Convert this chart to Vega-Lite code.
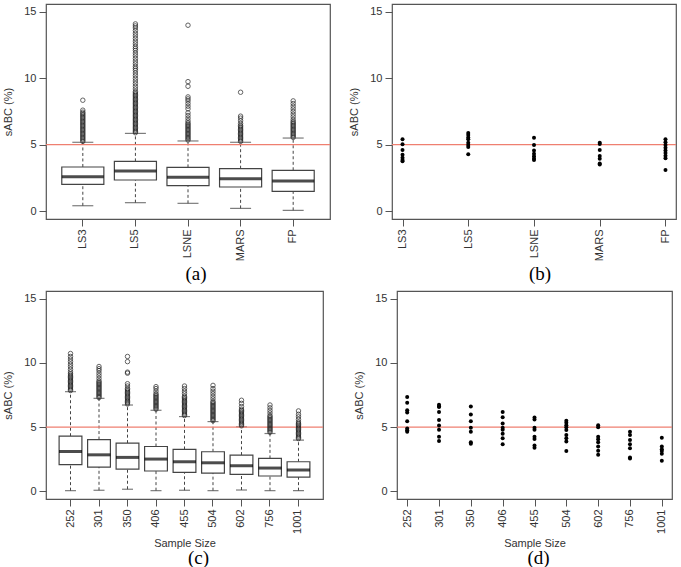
{
  "$schema": "https://vega.github.io/schema/vega-lite/v6.json",
  "padding": {"left": 2, "top": 3, "right": 0, "bottom": 0},
  "autosize": {"type": "pad"},
  "background": "white",
  "datasets": {
    "ref": [{"y": 5}],
    "boxA": [
      {"g": "LS3", "lo": 0.40, "q1": 2.01, "med": 2.59, "q3": 3.32, "hi": 5.18},
      {"g": "LS5", "lo": 0.63, "q1": 2.34, "med": 3.02, "q3": 3.74, "hi": 5.85},
      {"g": "LSNE", "lo": 0.58, "q1": 1.91, "med": 2.54, "q3": 3.29, "hi": 5.28},
      {"g": "MARS", "lo": 0.20, "q1": 1.81, "med": 2.44, "q3": 3.19, "hi": 5.18},
      {"g": "FP", "lo": 0.05, "q1": 1.48, "med": 2.26, "q3": 3.07, "hi": 5.50}
    ],
    "outA": [
      {"g": "LS3", "v": [5.25, 5.35, 5.45, 5.55, 5.65, 5.75, 5.85, 5.95, 6.05, 6.15, 6.25, 6.35, 6.45, 6.55, 6.65, 6.75, 6.85, 6.95, 7.05, 7.15, 7.25, 7.35, 7.45, 7.6, 8.35]},
      {"g": "LS5", "v": [5.9, 6.0, 6.1, 6.2, 6.3, 6.4, 6.5, 6.6, 6.7, 6.8, 6.9, 7.0, 7.1, 7.2, 7.3, 7.4, 7.5, 7.6, 7.7, 7.8, 7.9, 8.0, 8.1, 8.2, 8.3, 8.4, 8.5, 8.6, 8.7, 8.8, 8.9, 9.0, 9.2, 9.4, 9.6, 9.8, 10.0, 10.2, 10.4, 10.6, 10.75, 10.9, 11.1, 11.3, 11.5, 11.7, 11.9, 12.1, 12.25, 12.4, 12.6, 12.8, 13.0, 13.2, 13.4, 13.6, 13.8, 13.95, 14.1]},
      {"g": "LSNE", "v": [5.35, 5.45, 5.55, 5.65, 5.75, 5.85, 5.95, 6.05, 6.15, 6.25, 6.35, 6.45, 6.55, 6.65, 6.8, 7.0, 7.2, 7.4, 7.7, 7.9, 8.1, 8.3, 8.45, 8.6, 9.4, 9.75, 14.0]},
      {"g": "MARS", "v": [5.25, 5.35, 5.45, 5.55, 5.65, 5.75, 5.85, 5.95, 6.05, 6.15, 6.25, 6.35, 6.45, 6.6, 6.8, 7.0, 7.15, 8.95]},
      {"g": "FP", "v": [5.55, 5.65, 5.75, 5.85, 5.95, 6.05, 6.15, 6.25, 6.35, 6.45, 6.55, 6.65, 6.75, 6.9, 7.1, 7.3, 7.5, 7.7, 7.9, 8.1, 8.3]}
    ],
    "dotsB": [
      {"g": "LS3", "v": [5.40, 5.03, 4.60, 4.24, 4.02, 3.85, 3.75]},
      {"g": "LS5", "v": [5.88, 5.73, 5.55, 5.40, 5.15, 4.97, 4.82, 4.27]},
      {"g": "LSNE", "v": [5.52, 4.97, 4.57, 4.32, 4.12, 3.95, 3.85]},
      {"g": "MARS", "v": [5.15, 5.05, 4.60, 4.14, 3.94, 3.59, 3.50]},
      {"g": "FP", "v": [5.40, 5.18, 4.97, 4.77, 4.57, 4.37, 4.17, 3.97, 3.09]}
    ],
    "boxC": [
      {"g": "252", "lo": 0.05, "q1": 2.07, "med": 3.10, "q3": 4.29, "hi": 7.76},
      {"g": "301", "lo": 0.08, "q1": 1.89, "med": 2.84, "q3": 4.03, "hi": 7.24},
      {"g": "350", "lo": 0.16, "q1": 1.73, "med": 2.64, "q3": 3.75, "hi": 6.72},
      {"g": "406", "lo": 0.05, "q1": 1.58, "med": 2.51, "q3": 3.49, "hi": 6.31},
      {"g": "455", "lo": 0.08, "q1": 1.47, "med": 2.30, "q3": 3.26, "hi": 5.82},
      {"g": "504", "lo": 0.05, "q1": 1.42, "med": 2.22, "q3": 3.08, "hi": 5.43},
      {"g": "602", "lo": 0.10, "q1": 1.32, "med": 1.99, "q3": 2.82, "hi": 5.02},
      {"g": "756", "lo": 0.05, "q1": 1.19, "med": 1.81, "q3": 2.56, "hi": 4.50},
      {"g": "1001", "lo": 0.05, "q1": 1.11, "med": 1.66, "q3": 2.30, "hi": 3.98}
    ],
    "outC": [
      {"g": "252", "v": [7.85, 7.95, 8.05, 8.15, 8.25, 8.35, 8.45, 8.55, 8.65, 8.75, 8.85, 8.95, 9.05, 9.15, 9.3, 9.5, 9.7, 9.9, 10.1, 10.3, 10.5, 10.73]},
      {"g": "301", "v": [7.3, 7.4, 7.5, 7.6, 7.7, 7.8, 7.9, 8.0, 8.1, 8.2, 8.3, 8.4, 8.5, 8.6, 8.8, 9.0, 9.2, 9.4, 9.55, 9.72]},
      {"g": "350", "v": [6.8, 6.9, 7.0, 7.1, 7.2, 7.3, 7.4, 7.5, 7.6, 7.7, 7.8, 7.9, 8.0, 8.2, 8.38, 9.2, 9.28, 10.1, 10.5]},
      {"g": "406", "v": [6.4, 6.5, 6.6, 6.7, 6.8, 6.9, 7.0, 7.1, 7.2, 7.3, 7.4, 7.5, 7.6, 7.8, 8.0, 8.15]},
      {"g": "455", "v": [5.9, 6.0, 6.1, 6.2, 6.3, 6.4, 6.5, 6.6, 6.7, 6.8, 6.9, 7.0, 7.1, 7.2, 7.3, 7.4, 7.6, 7.8, 8.0, 8.2]},
      {"g": "504", "v": [5.5, 5.6, 5.7, 5.8, 5.9, 6.0, 6.1, 6.2, 6.3, 6.4, 6.5, 6.6, 6.7, 6.8, 6.9, 7.0, 7.2, 7.4, 7.6, 7.8, 8.0, 8.25]},
      {"g": "602", "v": [5.1, 5.2, 5.3, 5.4, 5.5, 5.6, 5.7, 5.8, 5.9, 6.0, 6.1, 6.2, 6.3, 6.4, 6.6, 6.85, 7.09]},
      {"g": "756", "v": [4.6, 4.7, 4.8, 4.9, 5.0, 5.1, 5.2, 5.3, 5.4, 5.5, 5.6, 5.7, 5.8, 5.9, 6.1, 6.3, 6.5, 6.72]},
      {"g": "1001", "v": [4.1, 4.2, 4.3, 4.4, 4.5, 4.6, 4.7, 4.8, 4.9, 5.0, 5.1, 5.2, 5.3, 5.4, 5.6, 5.8, 6.0, 6.26]}
    ],
    "dotsD": [
      {"g": "252", "v": [7.34, 6.90, 6.31, 6.13, 5.46, 4.90, 4.75, 4.64]},
      {"g": "301", "v": [6.75, 6.62, 6.57, 6.18, 5.56, 5.13, 4.79, 4.25, 3.92]},
      {"g": "350", "v": [6.60, 5.98, 5.46, 4.95, 4.64, 3.82, 3.71]},
      {"g": "406", "v": [6.18, 5.77, 5.29, 4.95, 4.79, 4.48, 4.13, 3.66]},
      {"g": "455", "v": [5.75, 5.59, 4.95, 4.79, 4.25, 4.07, 3.56, 3.40]},
      {"g": "504", "v": [5.49, 5.33, 5.15, 4.98, 4.77, 4.38, 4.13, 3.87, 3.13]},
      {"g": "602", "v": [5.15, 4.98, 4.25, 4.05, 3.82, 3.48, 3.15, 2.84]},
      {"g": "756", "v": [4.64, 4.38, 3.99, 3.66, 3.36, 2.63, 2.55]},
      {"g": "1001", "v": [4.17, 3.48, 3.28, 3.13, 2.92, 2.38]}
    ]
  },
  "vconcat": [
    {
      "hconcat": [
        {
          "width": 284, "height": 215,
          "title": {"text": "(a)", "orient": "bottom", "dx": 8},
          "encoding": {
            "x": {"field": "g", "type": "nominal", "title": null, "scale": {"domain": ["LS3", "LS5", "LSNE", "MARS", "FP"], "paddingInner": 0, "paddingOuter": 0.2}, "axis": {"labelAngle": -90}}
          },
          "layer": [
            {"data": {"name": "boxA"}, "mark": {"type": "rule", "strokeDash": [3, 2.5], "color": "#444", "strokeWidth": 1},
             "encoding": {"y": {"field": "lo", "type": "quantitative", "title": "sABC (%)", "scale": {"domain": [-0.6, 15.6], "nice": false, "zero": false}, "axis": {"values": [0, 5, 10, 15]}}, "y2": {"field": "q1"}}},
            {"data": {"name": "boxA"}, "mark": {"type": "rule", "strokeDash": [3, 2.5], "color": "#444", "strokeWidth": 1},
             "encoding": {"y": {"field": "q3", "type": "quantitative", "title": "sABC (%)"}, "y2": {"field": "hi"}}},
            {"data": {"name": "boxA"}, "mark": {"type": "tick", "size": 21, "thickness": 1.2, "color": "#444"},
             "encoding": {"y": {"field": "lo", "type": "quantitative", "title": "sABC (%)"}}},
            {"data": {"name": "boxA"}, "mark": {"type": "tick", "size": 21, "thickness": 1.2, "color": "#444"},
             "encoding": {"y": {"field": "hi", "type": "quantitative", "title": "sABC (%)"}}},
            {"data": {"name": "boxA"}, "mark": {"type": "bar", "fill": "white", "stroke": "#444", "strokeWidth": 1.2, "width": {"band": 0.8}},
             "encoding": {"y": {"field": "q1", "type": "quantitative", "title": "sABC (%)"}, "y2": {"field": "q3"}}},
            {"data": {"name": "boxA"}, "mark": {"type": "tick", "size": 42, "thickness": 3, "color": "#000"},
             "encoding": {"y": {"field": "med", "type": "quantitative", "title": "sABC (%)"}}},
            {"data": {"name": "ref"}, "mark": {"type": "rule", "color": "#ef7f70", "strokeWidth": 1.3},
             "encoding": {"x": null, "y": {"field": "y", "type": "quantitative", "title": "sABC (%)"}}},
            {"data": {"name": "outA"}, "transform": [{"flatten": ["v"]}], "mark": {"type": "point", "shape": "circle", "filled": false, "size": 20, "stroke": "#222", "strokeWidth": 1},
             "encoding": {"y": {"field": "v", "type": "quantitative", "title": "sABC (%)"}}}
          ]
        },
        {
          "width": 284, "height": 215,
          "title": {"text": "(b)", "orient": "bottom", "dx": 6},
          "layer": [
            {"data": {"name": "ref"}, "mark": {"type": "rule", "color": "#ef7f70", "strokeWidth": 1.3},
             "encoding": {"y": {"field": "y", "type": "quantitative", "title": "sABC (%)", "scale": {"domain": [-0.6, 15.6], "nice": false, "zero": false}, "axis": {"values": [0, 5, 10, 15]}}}},
            {"data": {"name": "dotsB"}, "transform": [{"flatten": ["v"]}], "mark": {"type": "point", "shape": "circle", "filled": true, "size": 16, "color": "#000", "opacity": 1},
             "encoding": {
               "x": {"field": "g", "type": "nominal", "title": null, "scale": {"type": "point", "domain": ["LS3", "LS5", "LSNE", "MARS", "FP"], "padding": 0.16}, "axis": {"labelAngle": -90}},
               "y": {"field": "v", "type": "quantitative", "title": "sABC (%)"}}}
          ]
        }
      ],
      "spacing": 62, "bounds": "flush"
    },
    {
      "hconcat": [
        {
          "width": 277, "height": 208,
          "title": {"text": "(c)", "orient": "bottom", "dx": 14, "offset": 1},
          "encoding": {
            "x": {"field": "g", "type": "nominal", "title": "Sample Size", "scale": {"domain": ["252", "301", "350", "406", "455", "504", "602", "756", "1001"], "paddingInner": 0, "paddingOuter": 0.36}, "axis": {"labelAngle": -90, "titlePadding": 4}}
          },
          "layer": [
            {"data": {"name": "boxC"}, "mark": {"type": "rule", "strokeDash": [3, 2.5], "color": "#444", "strokeWidth": 1},
             "encoding": {"y": {"field": "lo", "type": "quantitative", "title": "sABC (%)", "scale": {"domain": [-0.6, 15.6], "nice": false, "zero": false}, "axis": {"values": [0, 5, 10, 15]}}, "y2": {"field": "q1"}}},
            {"data": {"name": "boxC"}, "mark": {"type": "rule", "strokeDash": [3, 2.5], "color": "#444", "strokeWidth": 1},
             "encoding": {"y": {"field": "q3", "type": "quantitative", "title": "sABC (%)"}, "y2": {"field": "hi"}}},
            {"data": {"name": "boxC"}, "mark": {"type": "tick", "size": 11, "thickness": 1.2, "color": "#444"},
             "encoding": {"y": {"field": "lo", "type": "quantitative", "title": "sABC (%)"}}},
            {"data": {"name": "boxC"}, "mark": {"type": "tick", "size": 11, "thickness": 1.2, "color": "#444"},
             "encoding": {"y": {"field": "hi", "type": "quantitative", "title": "sABC (%)"}}},
            {"data": {"name": "boxC"}, "mark": {"type": "bar", "fill": "white", "stroke": "#444", "strokeWidth": 1.2, "width": {"band": 0.8}},
             "encoding": {"y": {"field": "q1", "type": "quantitative", "title": "sABC (%)"}, "y2": {"field": "q3"}}},
            {"data": {"name": "boxC"}, "mark": {"type": "tick", "size": 23, "thickness": 3, "color": "#000"},
             "encoding": {"y": {"field": "med", "type": "quantitative", "title": "sABC (%)"}}},
            {"data": {"name": "ref"}, "mark": {"type": "rule", "color": "#ef7f70", "strokeWidth": 1.3},
             "encoding": {"x": null, "y": {"field": "y", "type": "quantitative", "title": "sABC (%)"}}},
            {"data": {"name": "outC"}, "transform": [{"flatten": ["v"]}], "mark": {"type": "point", "shape": "circle", "filled": false, "size": 20, "stroke": "#222", "strokeWidth": 1},
             "encoding": {"y": {"field": "v", "type": "quantitative", "title": "sABC (%)"}}}
          ]
        },
        {
          "width": 275, "height": 208,
          "title": {"text": "(d)", "orient": "bottom", "dx": 4, "offset": 1},
          "layer": [
            {"data": {"name": "ref"}, "mark": {"type": "rule", "color": "#ef7f70", "strokeWidth": 1.3},
             "encoding": {"y": {"field": "y", "type": "quantitative", "title": "sABC (%)", "scale": {"domain": [-0.6, 15.6], "nice": false, "zero": false}, "axis": {"values": [0, 5, 10, 15]}}}},
            {"data": {"name": "dotsD"}, "transform": [{"flatten": ["v"]}], "mark": {"type": "point", "shape": "circle", "filled": true, "size": 16, "color": "#000", "opacity": 1},
             "encoding": {
               "x": {"field": "g", "type": "nominal", "title": "Sample Size", "scale": {"type": "point", "domain": ["252", "301", "350", "406", "455", "504", "602", "756", "1001"], "padding": 0.32}, "axis": {"labelAngle": -90, "titlePadding": 4}},
               "y": {"field": "v", "type": "quantitative", "title": "sABC (%)"}}}
          ]
        }
      ],
      "spacing": 74, "bounds": "flush"
    }
  ],
  "spacing": 5,
  "config": {
    "font": "Liberation Sans",
    "view": {"stroke": "#555", "strokeWidth": 1.2},
    "axis": {"domain": false, "grid": false, "tickColor": "#555", "tickSize": 7, "tickWidth": 1, "labelColor": "#333", "labelFont": "Liberation Sans", "labelFontSize": 11, "labelPadding": 3, "titleFont": "Liberation Sans", "titleFontSize": 11, "titleFontWeight": "normal", "titleColor": "#333", "titlePadding": 10},
    "title": {"font": "Liberation Serif", "fontSize": 19, "fontWeight": "normal", "color": "#000", "offset": 4}
  }
}
